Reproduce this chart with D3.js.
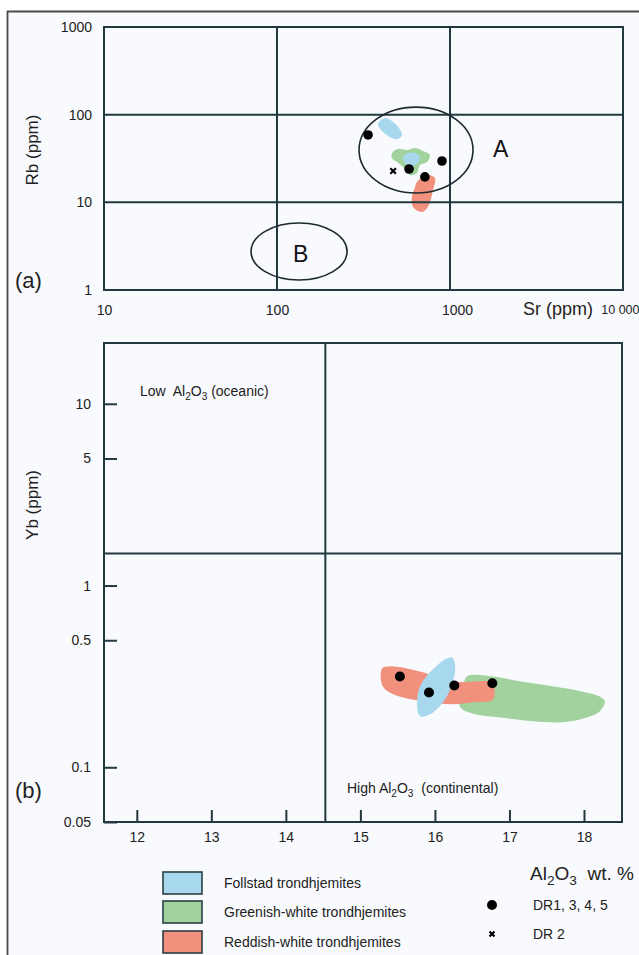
<!DOCTYPE html>
<html><head><meta charset="utf-8">
<script src="https://cdn.jsdelivr.net/npm/d3@7"></script>
<style>html,body{margin:0;padding:0;background:#fff}svg{display:block}text{white-space:pre}</style>
</head><body><svg id="c" width="639" height="955"></svg>
<script>
// ---------- DATA ----------
// Panel (a): Rb vs Sr (ppm)
const srTicks = [10, 100, 1000, 10000];
const srTickLabels = ["10", "100", "1000", "10 000"];
const rbTicks = [1, 10, 100, 1000];
const rbTickLabels = ["1", "10", "100", "1000"];
const srGrid = [100, 1000];
const rbGrid = [10, 100];
// ellipse fields as data extents [Sr min, Sr max], [Rb min, Rb max]
const fieldA = {sr: [298, 1358], rb: [12.8, 122], label: "A"};
const fieldB = {sr: [70.8, 254], rb: [1.30, 5.8], label: "B"};
// blobs [Sr, Rb]
const topFollstad = [[389,82.4],[421,91.6],[462,84.7],[507,70.5],[528,58.6],[500,52.7],[462,54.2],[410,63.4],[384,76.2]];
const topGreenish = [[462,36.6],[500,40.6],[564,39.5],[628,41.7],[698,38.6],[766,34.7],[736,28.8],[671,26.7],[644,21.6],[587,20.5],[535,25.3],[494,28.8],[462,32.1]];
const topFollstadInner = [[535,32.9],[571,36.6],[628,36.6],[671,32.9],[653,28.1],[603,26.0],[557,27.4]];
const topReddish = [[644,17.1],[736,20.5],[818,19.0],[798,13.8],[746,8.85],[689,7.76],[611,8.85],[603,11.5],[628,15.0]];
const topDR1345 = [[336,58.7],[899,29.6],[580,24.0],[716,19.5]];
const topDR2 = [[469,22.8]];

// Panel (b): Yb (ppm) vs Al2O3 wt.%
const alTicks = [12, 13, 14, 15, 16, 17, 18];
const ybTicks = [0.05, 0.1, 0.5, 1, 5, 10];
const ybTickLabels = ["0.05", "0.1", "0.5", "1", "5", "10"];
const alDivide = 14.53;
const ybDivide = 1.5;
const botGreenish = [[16.43,0.316],[16.78,0.316],[17.14,0.297],[17.58,0.279],[17.95,0.262],[18.21,0.245],[18.28,0.230],[18.21,0.203],[18.04,0.188],[17.72,0.177],[17.32,0.179],[16.87,0.188],[16.56,0.195],[16.34,0.214],[16.34,0.245],[16.38,0.279]];
const botReddish = [[15.29,0.350],[15.40,0.359],[15.62,0.350],[15.84,0.333],[16.20,0.297],[16.74,0.297],[16.78,0.290],[16.78,0.236],[16.51,0.228],[16.24,0.222],[15.84,0.230],[15.44,0.252],[15.30,0.279]];
const botFollstad = [[16.23,0.402],[16.27,0.367],[16.24,0.293],[16.11,0.228],[15.93,0.195],[15.80,0.191],[15.76,0.222],[15.80,0.279],[15.97,0.345],[16.16,0.397]];
const botDR1345 = [[15.53,0.316],[15.92,0.258],[16.26,0.282],[16.77,0.290]];

// Legend
const legendGroups = ["Follstad trondhjemites", "Greenish-white trondhjemites", "Reddish-white trondhjemites"];
const legendSymbols = ["DR1, 3, 4, 5", "DR 2"];

// ---------- STYLE ----------
const FONT = "'Liberation Sans', Arial, Helvetica, sans-serif";
const INK = "#22393f";
const C_BLUE = "#a8d8ee", C_GREEN = "#a2d39f", C_RED = "#f1907c";
const groupColors = [C_BLUE, C_GREEN, C_RED];

const svg = d3.select("#c").attr("font-family", FONT);
svg.append("rect").attr("x", 8).attr("y", 11).attr("width", 631).attr("height", 944).attr("fill", "#f9fafd");
svg.append("path").attr("d", "M7.5,955V11.5H639").attr("fill", "none").attr("stroke", "#4a4a4a").attr("stroke-width", 1.8);

function richText(sel, parts, size) {
  const sub = size * 0.27;
  let shifted = false;
  parts.forEach(([t, isSub]) => {
    const ts = sel.append("tspan").text(t);
    if (isSub && !shifted) { ts.attr("dy", sub).attr("font-size", size * 0.72); shifted = true; }
    else if (!isSub && shifted) { ts.attr("dy", -sub); shifted = false; }
    else if (isSub) ts.attr("font-size", size * 0.72);
  });
}
const blobLine = (xs, ys) => d3.line().x(d => xs(d[0])).y(d => ys(d[1])).curve(d3.curveCatmullRomClosed.alpha(0.5));

// ---------- PANEL A ----------
const xA = d3.scaleLog().domain([10, 10000]).range([104, 623]);
const yA = d3.scaleLog().domain([1, 1000]).range([290, 27]);
const gA = svg.append("g");

const lineA = blobLine(xA, yA);
gA.append("path").attr("d", lineA(topGreenish)).attr("fill", C_GREEN);
gA.append("path").attr("d", lineA(topFollstadInner)).attr("fill", C_BLUE);
gA.append("path").attr("d", lineA(topFollstad)).attr("fill", C_BLUE);
gA.append("path").attr("d", lineA(topReddish)).attr("fill", C_RED);

srGrid.forEach(v => gA.append("line").attr("x1", xA(v)).attr("x2", xA(v)).attr("y1", yA(1)).attr("y2", yA(1000)).attr("stroke", INK).attr("stroke-width", 2));
rbGrid.forEach(v => gA.append("line").attr("y1", yA(v)).attr("y2", yA(v)).attr("x1", xA(10)).attr("x2", xA(10000)).attr("stroke", INK).attr("stroke-width", 2));
gA.append("rect").attr("x", xA(10)).attr("y", yA(1000)).attr("width", xA(10000) - xA(10)).attr("height", yA(1) - yA(1000))
  .attr("fill", "none").attr("stroke", INK).attr("stroke-width", 2);

[fieldA, fieldB].forEach(f => {
  const x0 = xA(f.sr[0]), x1 = xA(f.sr[1]), y0 = yA(f.rb[1]), y1 = yA(f.rb[0]);
  gA.append("ellipse").attr("cx", (x0 + x1) / 2).attr("cy", (y0 + y1) / 2).attr("rx", (x1 - x0) / 2).attr("ry", (y1 - y0) / 2)
    .attr("fill", "none").attr("stroke", "#1c2a2e").attr("stroke-width", 1.6);
});
gA.append("text").attr("x", 493).attr("y", 157).attr("font-size", 23).attr("fill", "#111").text(fieldA.label);
gA.append("text").attr("x", 293).attr("y", 262).attr("font-size", 23).attr("fill", "#111").text(fieldB.label);

gA.selectAll(".dotA").data(topDR1345).join("circle").attr("cx", d => xA(d[0])).attr("cy", d => yA(d[1])).attr("r", 4.8).attr("fill", "#000");
gA.selectAll(".crossA").data(topDR2).join("path").attr("transform", d => `translate(${xA(d[0])},${yA(d[1])})`)
  .attr("d", d3.symbol().type(d3.symbolX).size(22)).attr("fill", "none").attr("stroke", "#000").attr("stroke-width", 2.2);

const axA_x = gA.append("g").attr("transform", `translate(0,${yA(1)})`)
  .call(d3.axisBottom(xA).tickValues(srTicks).tickFormat((d, i) => srTickLabels[i]).tickSize(0).tickPadding(15));
const axA_y = gA.append("g").attr("transform", `translate(${xA(10)},0)`)
  .call(d3.axisLeft(yA).tickValues(rbTicks).tickFormat((d, i) => rbTickLabels[i]).tickSize(0).tickPadding(12));
[axA_x, axA_y].forEach(a => { a.select(".domain").remove(); a.attr("font-family", FONT).attr("font-size", 14).selectAll("text").attr("fill", "#222"); });
axA_x.selectAll("text").filter(d => d === 1000).attr("dx", 7);
axA_x.selectAll("text").filter(d => d === 10000).attr("text-anchor", "end").attr("x", 16).attr("font-size", 12.5);

gA.append("text").attr("x", 523).attr("y", 315).attr("font-size", 18).attr("fill", "#222").text("Sr (ppm)");
gA.append("text").attr("transform", "translate(38,150) rotate(-90)").attr("text-anchor", "middle").attr("font-size", 17).attr("fill", "#222").text("Rb (ppm)");
gA.append("text").attr("x", 15).attr("y", 288).attr("font-size", 22).attr("fill", "#222").text("(a)");

// ---------- PANEL B ----------
const xB = d3.scaleLinear().domain([11.56, 18.51]).range([104, 622]);
const yB = d3.scaleLog().domain([0.05, 21.6]).range([822, 343]);
const gB = svg.append("g");
const lineB = blobLine(xB, yB);
gB.append("path").attr("d", lineB(botGreenish)).attr("fill", C_GREEN);
gB.append("path").attr("d", lineB(botReddish)).attr("fill", C_RED);
gB.append("path").attr("d", lineB(botFollstad)).attr("fill", C_BLUE);

gB.append("line").attr("x1", xB(alDivide)).attr("x2", xB(alDivide)).attr("y1", yB.range()[0]).attr("y2", yB.range()[1]).attr("stroke", INK).attr("stroke-width", 2);
gB.append("line").attr("x1", xB.range()[0]).attr("x2", xB.range()[1]).attr("y1", yB(ybDivide)).attr("y2", yB(ybDivide)).attr("stroke", INK).attr("stroke-width", 2);
gB.append("rect").attr("x", xB.range()[0]).attr("y", yB.range()[1]).attr("width", xB.range()[1] - xB.range()[0]).attr("height", yB.range()[0] - yB.range()[1])
  .attr("fill", "none").attr("stroke", INK).attr("stroke-width", 2);

gB.selectAll(".dotB").data(botDR1345).join("circle").attr("cx", d => xB(d[0])).attr("cy", d => yB(d[1])).attr("r", 5).attr("fill", "#000");

const axB_x = gB.append("g").attr("transform", `translate(0,${yB.range()[0]})`)
  .call(d3.axisBottom(xB).tickValues(alTicks).tickFormat(d3.format("d")).tickSize(-12).tickPadding(10));
const axB_y = gB.append("g").attr("transform", `translate(${xB.range()[0]},0)`)
  .call(d3.axisLeft(yB).tickValues(ybTicks).tickFormat((d, i) => ybTickLabels[i]).tickSize(-13).tickPadding(13));
[axB_x, axB_y].forEach(a => {
  a.select(".domain").remove();
  a.attr("font-family", FONT).attr("font-size", 14).attr("color", INK);
  a.selectAll("line").attr("stroke-width", 2);
  a.selectAll("text").attr("fill", "#222");
});

const low = gB.append("text").attr("x", 140).attr("y", 396).attr("font-size", 14).attr("fill", "#222");
richText(low, [["Low  Al", 0], ["2", 1], ["O", 0], ["3", 1], [" (oceanic)", 0]], 14);
const high = gB.append("text").attr("x", 347).attr("y", 793).attr("font-size", 14).attr("fill", "#222");
richText(high, [["High Al", 0], ["2", 1], ["O", 0], ["3", 1], ["  (continental)", 0]], 14);

gB.append("text").attr("transform", "translate(38,505) rotate(-90)").attr("text-anchor", "middle").attr("font-size", 17).attr("fill", "#222").text("Yb (ppm)");
gB.append("text").attr("x", 15).attr("y", 798).attr("font-size", 22).attr("fill", "#222").text("(b)");

// ---------- LEGEND ----------
const lg = svg.append("g");
const boxY = [872, 901, 931];
legendGroups.forEach((name, i) => {
  lg.append("rect").attr("x", 163).attr("y", boxY[i]).attr("width", 39).attr("height", 22).attr("fill", groupColors[i]).attr("stroke", "#2b3f44").attr("stroke-width", 1.6);
  lg.append("text").attr("x", 224).attr("y", boxY[i] + 16).attr("font-size", 14).attr("fill", "#222").text(name);
});
const alLab = lg.append("text").attr("x", 530).attr("y", 880).attr("font-size", 19).attr("fill", "#222");
richText(alLab, [["Al", 0], ["2", 1], ["O", 0], ["3", 1], ["  wt. %", 0]], 19);
lg.append("circle").attr("cx", 492).attr("cy", 905).attr("r", 5).attr("fill", "#000");
lg.append("path").attr("transform", "translate(492,934)").attr("d", d3.symbol().type(d3.symbolX).size(18)).attr("fill", "none").attr("stroke", "#000").attr("stroke-width", 2.2);
lg.append("text").attr("x", 533).attr("y", 910).attr("font-size", 14).attr("fill", "#222").text(legendSymbols[0]);
lg.append("text").attr("x", 533).attr("y", 939).attr("font-size", 14).attr("fill", "#222").text(legendSymbols[1]);
</script></body></html>
